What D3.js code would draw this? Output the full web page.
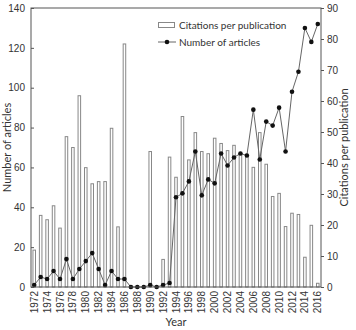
<!DOCTYPE html>
<html>
<head>
<meta charset="utf-8">
<script src="https://cdn.jsdelivr.net/npm/d3@7"></script>
<style>
  html, body { margin: 0; padding: 0; background: #fff; }
  svg { display: block; font-family: Lato, "Open Sans", sans-serif; }
</style>
</head>
<body>
<svg id="chart" width="356" height="330"></svg>
<script>
const years = d3.range(1972, 2017);

// citations per publication (right axis)
const citations = [
  11.9, 23.1, 21.7, 26.2, 19.0, 48.5, 45.0, 61.7, 38.5, 33.3,
  34.0, 34.0, 51.2, 19.4, 78.4, 0, 0, 0, 43.7, 0,
  8.9, 41.9, 35.4, 55.0, 41.0, 49.8, 43.7, 43.0, 48.0, 46.3,
  44.0, 45.7, 43.0, 42.2, 38.6, 49.8, 39.6, 29.2, 30.2, 19.5,
  23.8, 23.4, 9.6, 19.9, 1.2
];

// number of articles (left axis)
const articles = [
  1, 5, 4, 8, 4, 14, 4, 9, 13, 17,
  9, 1, 8, 4, 4, 0, 0, 0, 1, 0,
  1, 2, 45, 47, 53, 68, 46, 54, 52, 67,
  61, 65, 67, 66, 89, 64, 83, 81, 90, 68,
  98, 108, 130, 123, 132
];

const leftTicks = [0, 20, 40, 60, 80, 100, 120, 140];
const rightTicks = [0, 10, 20, 30, 40, 50, 60, 70, 80, 90];
const yearTicks = years.filter(y => y % 2 === 0);

const rows = years.map((year, i) => ({ year, cit: citations[i], art: articles[i] }));

const svg = d3.select('#chart');
const margin = { top: 8, right: 35, bottom: 43, left: 31 };
const W = 356, H = 330;
const innerW = W - margin.left - margin.right;
const innerH = H - margin.top - margin.bottom;
const ink = '#333';

const x = d3.scaleBand()
  .domain(years)
  .range([0, innerW])
  .paddingInner(0.45)
  .paddingOuter(0.225);
const yL = d3.scaleLinear().domain([0, 140]).range([innerH, 0]);
const yR = d3.scaleLinear().domain([0, 90]).range([innerH, 0]);

const g = svg.append('g').attr('transform', `translate(${margin.left},${margin.top})`);

// bars
g.selectAll('rect.bar').data(rows.filter(d => d.cit > 0)).join('rect')
  .attr('class', 'bar')
  .attr('x', d => x(d.year) + 0.5)
  .attr('y', d => yR(d.cit))
  .attr('width', x.bandwidth() - 1)
  .attr('height', d => yR(0) - yR(d.cit))
  .attr('fill', '#fff')
  .attr('stroke', '#888')
  .attr('stroke-width', 1);

// line
const cx = d => x(d.year) + x.bandwidth() / 2;
g.append('path')
  .datum(rows)
  .attr('fill', 'none')
  .attr('stroke', '#666')
  .attr('stroke-width', 1)
  .attr('d', d3.line().x(cx).y(d => yL(d.art)));

g.selectAll('circle.pt').data(rows).join('circle')
  .attr('class', 'pt')
  .attr('cx', cx)
  .attr('cy', d => yL(d.art))
  .attr('r', 2.3)
  .attr('fill', '#111');

// frame
g.append('rect')
  .attr('width', innerW).attr('height', innerH)
  .attr('fill', 'none').attr('stroke', '#555').attr('stroke-width', 1);

// axes
const styleAxis = axis => {
  axis.select('.domain').remove();
  axis.selectAll('line').attr('stroke', '#555');
  axis.selectAll('text').attr('fill', ink).attr('font-size', 10);
};

g.append('g')
  .call(d3.axisLeft(yL).tickValues(leftTicks).tickSizeInner(-3).tickPadding(6))
  .call(styleAxis);

g.append('g')
  .attr('transform', `translate(${innerW},0)`)
  .call(d3.axisRight(yR).tickValues(rightTicks).tickSizeInner(3).tickPadding(3))
  .call(styleAxis);

g.append('g')
  .attr('transform', `translate(0,${innerH})`)
  .call(d3.axisBottom(x).tickValues(yearTicks).tickSize(0).tickPadding(3))
  .call(styleAxis)
  .call(axis => axis.selectAll('text')
    .attr('transform', 'rotate(-90)')
    .attr('text-anchor', 'end')
    .attr('dy', '0.35em')
    .attr('x', -4)
    .attr('y', 0));

// titles
svg.append('text')
  .attr('x', margin.left + innerW / 2).attr('y', 326)
  .attr('text-anchor', 'middle').attr('fill', ink).attr('font-size', 11)
  .text('Year');

svg.append('text')
  .attr('transform', `translate(11,${margin.top + innerH / 2}) rotate(-90)`)
  .attr('text-anchor', 'middle').attr('fill', ink).attr('font-size', 11)
  .text('Number of articles');

svg.append('text')
  .attr('transform', `translate(348,${margin.top + innerH / 2}) rotate(-90)`)
  .attr('text-anchor', 'middle').attr('fill', ink).attr('font-size', 11)
  .text('Citations per publication');

// legend
const legend = svg.append('g').attr('transform', 'translate(158,18)');
legend.append('rect')
  .attr('x', 0.5).attr('y', 4.5).attr('width', 16).attr('height', 5)
  .attr('fill', '#fff').attr('stroke', '#888');
legend.append('text')
  .attr('x', 21).attr('y', 11).attr('fill', ink).attr('font-size', 10)
  .text('Citations per publication');
legend.append('line')
  .attr('x1', 0).attr('x2', 18).attr('y1', 24).attr('y2', 24)
  .attr('stroke', '#666');
legend.append('circle')
  .attr('cx', 9).attr('cy', 24).attr('r', 2.3).attr('fill', '#111');
legend.append('text')
  .attr('x', 21).attr('y', 27.5).attr('fill', ink).attr('font-size', 10)
  .text('Number of articles');
</script>
</body>
</html>
